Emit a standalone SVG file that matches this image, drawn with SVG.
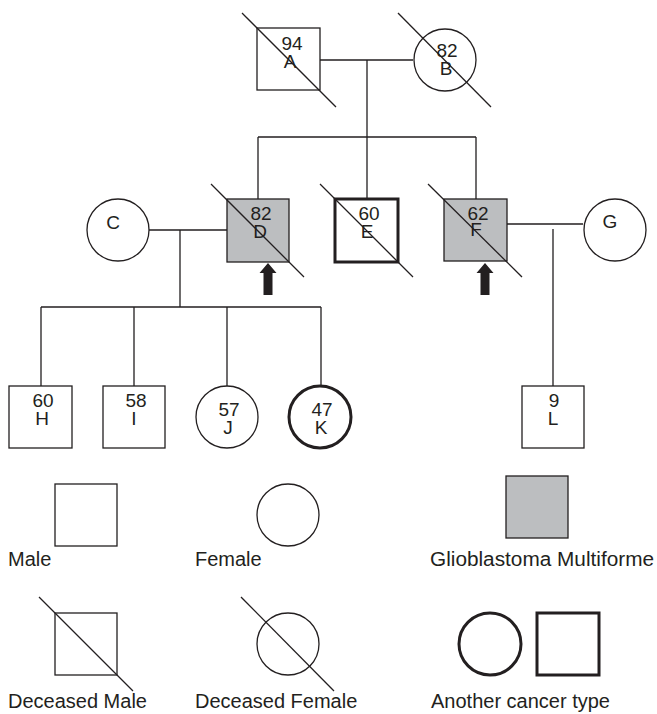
<svg xmlns="http://www.w3.org/2000/svg" width="657" height="714" viewBox="0 0 657 714">
<style>
.s{fill:#fff;stroke:#231f20;stroke-width:1.3}
.g{fill:#bcbec0;stroke:#231f20;stroke-width:1.3}
.t{fill:#fff;stroke:#231f20;stroke-width:3}
.d{stroke:#231f20;stroke-width:1.3;fill:none}
.c{stroke:#231f20;stroke-width:1.3;fill:none}
text{font-family:"Liberation Sans",Arial,sans-serif;font-size:19px;fill:#231f20}
.m{text-anchor:middle}
.lg{font-size:20px}
.ar{fill:#231f20}
</style>
<g id="connectors">
<path class="c" d="M320 60H413M367 60V199M258 137H476M258 137V199M476 137V199"/>
<path class="c" d="M149 230H227M180 230V307M41 307H321M41 307V386M134 307V386M227 307V386M321 307V386"/>
<path class="c" d="M507 224H583M553 229V386"/>
</g>
<g id="node-A">
<rect class="s" x="257" y="28" width="63" height="62"/>
<line class="d" x1="242" y1="13" x2="336" y2="107"/>
<text class="m"><tspan x="292" y="50">94</tspan><tspan x="290" y="68">A</tspan></text>
</g>
<g id="node-B">
<circle class="s" cx="445" cy="60" r="31"/>
<line class="d" x1="398" y1="13" x2="491" y2="107"/>
<text class="m"><tspan x="447" y="57">82</tspan><tspan x="446" y="75">B</tspan></text>
</g>
<g id="node-C">
<circle class="s" cx="118" cy="230" r="31"/>
<text class="m" x="113" y="229">C</text>
</g>
<g id="node-D">
<rect class="g" x="227" y="199" width="62" height="63"/>
<line class="d" x1="211" y1="184" x2="304" y2="277"/>
<text class="m"><tspan x="261" y="220">82</tspan><tspan x="260" y="238">D</tspan></text>
<path class="ar" d="M268 263L276.5 273H272.5V295H263.5V273H259.5Z"/>
</g>
<g id="node-E">
<rect class="t" x="335" y="199" width="63" height="63"/>
<line class="d" x1="320" y1="184" x2="413" y2="277"/>
<text class="m"><tspan x="369" y="220">60</tspan><tspan x="367" y="238">E</tspan></text>
</g>
<g id="node-F">
<rect class="g" x="444" y="199" width="63" height="62"/>
<line class="d" x1="428" y1="184" x2="522" y2="277"/>
<text class="m"><tspan x="478" y="220">62</tspan><tspan x="476" y="236">F</tspan></text>
<path class="ar" d="M485 263L493.5 273H489.5V295H480.5V273H476.5Z"/>
</g>
<g id="node-G">
<circle class="s" cx="615" cy="230" r="31"/>
<text class="m" x="610" y="228">G</text>
</g>
<g id="node-H">
<rect class="s" x="9" y="386" width="63" height="62"/>
<text class="m"><tspan x="43" y="407">60</tspan><tspan x="42" y="425">H</tspan></text>
</g>
<g id="node-I">
<rect class="s" x="103" y="386" width="62" height="62"/>
<text class="m"><tspan x="136" y="407">58</tspan><tspan x="134" y="425">I</tspan></text>
</g>
<g id="node-J">
<circle class="s" cx="227" cy="417" r="31"/>
<text class="m"><tspan x="229" y="416">57</tspan><tspan x="228" y="434">J</tspan></text>
</g>
<g id="node-K">
<circle class="t" cx="320" cy="417" r="31"/>
<text class="m"><tspan x="322" y="416">47</tspan><tspan x="321" y="434">K</tspan></text>
</g>
<g id="node-L">
<rect class="s" x="522" y="386" width="62" height="62"/>
<text class="m"><tspan x="554" y="407">9</tspan><tspan x="553" y="425">L</tspan></text>
</g>
<g id="legend">
<rect class="s" x="55" y="484" width="62" height="62"/>
<text class="lg" x="8" y="566">Male</text>
<circle class="s" cx="288" cy="515" r="31"/>
<text class="lg" x="195" y="566">Female</text>
<rect class="g" x="506" y="476" width="62" height="62"/>
<text class="lg" x="430" y="566" textLength="224" lengthAdjust="spacingAndGlyphs">Glioblastoma Multiforme</text>
<rect class="s" x="55" y="613" width="62" height="62"/>
<line class="d" x1="39" y1="597" x2="133" y2="691"/>
<text class="lg" x="8" y="708">Deceased Male</text>
<circle class="s" cx="288" cy="644" r="31"/>
<line class="d" x1="241" y1="597" x2="334" y2="691"/>
<text class="lg" x="195" y="708">Deceased Female</text>
<circle class="t" cx="490" cy="644" r="31"/>
<rect class="t" x="537" y="613" width="62" height="62"/>
<text class="lg" x="431" y="708">Another cancer type</text>
</g>
</svg>
